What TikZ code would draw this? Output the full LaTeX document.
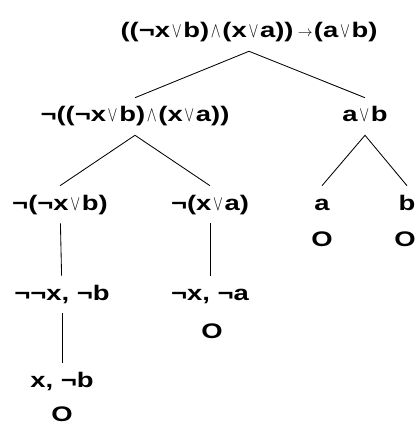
\documentclass[tikz,border=0pt]{standalone}
\usepackage{graphicx}
\usepackage{fontspec}
\setmainfont{Liberation Sans}[FakeStretch=1.3]
\newcommand{\orv}{\kern1.2pt\resizebox{7pt}{8.5pt}{$\vee$}\kern1.2pt}
\newcommand{\andv}{\kern1.2pt\resizebox{7pt}{8.5pt}{$\wedge$}\kern1.2pt}
\newcommand{\implsym}{\kern3pt\raisebox{.8pt}{\resizebox{10.5pt}{!}{$\rightarrow$}}\kern1pt}

\begin{document}
\begin{tikzpicture}[x=.025cm,y=-.025cm,font=\fontsize{15}{18}\selectfont\bfseries,
fml/.style={anchor=base,text height=.375cm,text depth=.1cm,inner xsep=0pt,inner ysep=.225cm},
closed/.style={anchor=base,inner sep=0pt},
edge/.style={line width=.6pt,draw=black}]
\useasboundingbox(0,0)rectangle(415,425);

\node[fml](root)at(249,38){((¬x\orv b)\andv(x\orv a))\implsym(a\orv b)};
\node[fml](neg)at(135,122){¬((¬x\orv b)\andv(x\orv a))};
\node[fml](disj)at(365,122){a\orv b};
\node[fml](nxb)at(60,210){¬(¬x\orv b)};
\node[fml](nxa)at(210,210){¬(x\orv a)};
\node[fml](lita)at(322,210){a};
\node[fml](litb)at(407,210){b};
\node[fml](nnx)at(62,300){¬¬x, ¬b};
\node[fml](nxna)at(210,300){¬x, ¬a};
\node[fml](xnb)at(62,387){x, ¬b};
% closed branches
\node[closed](oa)at(322,246){O};
\node[closed](ob)at(405,246){O};
\node[closed](oxa)at(212,338){O};
\node[closed](oxb)at(62,421){O};

\draw[edge](neg.north)--(root.south)--(disj.north);
\draw[edge](nxb.north)--(neg.south)--(nxa.north);
\draw[edge](lita.north)--(disj.south)--(litb.north);
\draw[edge](nxb)--(nnx);
\draw[edge](nnx)--(xnb);
\draw[edge](nxa)--(nxna);
\end{tikzpicture}
\end{document}
